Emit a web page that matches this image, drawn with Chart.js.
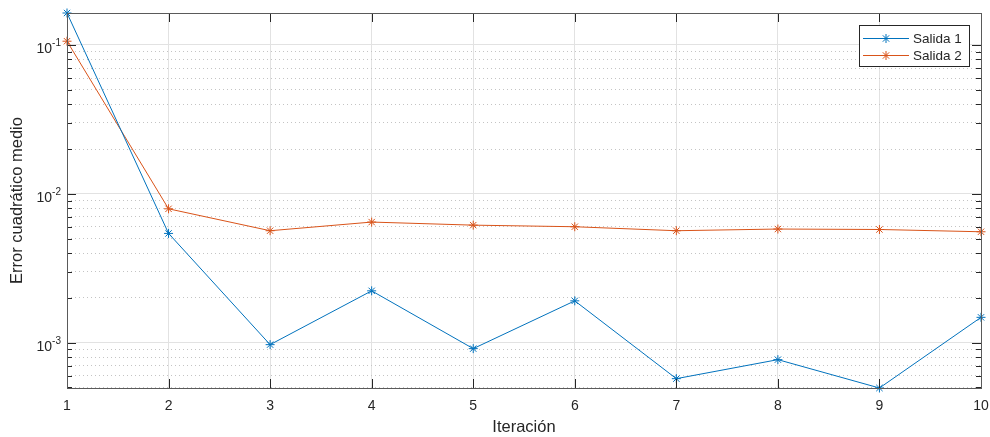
<!DOCTYPE html>
<html>
<head>
<meta charset="utf-8">
<script src="https://cdn.jsdelivr.net/npm/chart.js@4"></script>
<style>
  html, body { margin: 0; padding: 0; background: #fff; }
  #wrap { width: 990px; height: 437px; }
</style>
</head>
<body>
<div id="wrap"><canvas id="chart" width="990" height="437"></canvas></div>
<script>
// data
const iteraciones = ['1', '2', '3', '4', '5', '6', '7', '8', '9', '10'];
const salida1 = [0.164, 0.00542, 0.00097, 0.00223, 0.000912, 0.00191, 0.000573, 0.000769, 0.000496, 0.00148];
const salida2 = [0.106, 0.00793, 0.00565, 0.00646, 0.00616, 0.00601, 0.00565, 0.00580, 0.00576, 0.00556];
const seriesNames = ['Salida 1', 'Salida 2'];
const seriesColors = ['#0072BD', '#D95319'];
const decadeValues = [0.001, 0.01, 0.1];
const decadeExps = ['-3', '-2', '-1'];

const yMin = Math.min(...salida1, ...salida2);
const yMax = Math.max(...salida1, ...salida2);
const FONT = '"Liberation Sans", Arial, sans-serif';
const AXIS = '#262626';

function isDecade(v) {
  const l = Math.log10(v);
  return Math.abs(l - Math.round(l)) < 1e-9;
}

// MATLAB-like box, inward tick marks, y labels with superscripts, legend
const matlabAxes = {
  id: 'matlabAxes',
  afterDraw(chart) {
    const ctx = chart.ctx;
    const a = chart.chartArea;
    const xs = chart.scales.x, ys = chart.scales.y;
    ctx.save();
    ctx.strokeStyle = AXIS;
    ctx.lineWidth = 1;
    ctx.beginPath();
    // inward ticks on left and right
    ys.ticks.forEach(t => {
      const y = Math.round(ys.getPixelForValue(t.value)) + 0.5;
      const len = isDecade(t.value) ? 9 : 5;
      ctx.moveTo(a.left, y); ctx.lineTo(a.left + len, y);
      ctx.moveTo(a.right, y); ctx.lineTo(a.right - len, y);
    });
    // inward ticks on top and bottom
    iteraciones.forEach((c, i) => {
      const x = Math.round(xs.getPixelForValue(i)) + 0.5;
      ctx.moveTo(x, a.bottom); ctx.lineTo(x, a.bottom - 9);
      ctx.moveTo(x, a.top); ctx.lineTo(x, a.top + 9);
    });
    ctx.stroke();
    ctx.strokeStyle = '#5a5a5a';
    ctx.strokeRect(Math.round(a.left) + 0.5, Math.round(a.top) + 0.5,
      Math.round(a.right - a.left), Math.round(a.bottom - a.top));

    // y tick labels as 10^n
    ctx.fillStyle = AXIS;
    ctx.textBaseline = 'alphabetic';
    decadeValues.forEach((v, i) => {
      const y = ys.getPixelForValue(v);
      ctx.font = '10px ' + FONT;
      ctx.textAlign = 'right';
      const ew = ctx.measureText(decadeExps[i]).width;
      ctx.fillText(decadeExps[i], a.left - 6, y + 1);
      ctx.font = '14px ' + FONT;
      ctx.fillText('10', a.left - 6 - ew, y + 8);
    });

    // legend
    const lx = 859, ly = 25, lw = 110, lh = 41;
    ctx.fillStyle = '#fff';
    ctx.fillRect(lx, ly, lw, lh);
    ctx.strokeStyle = AXIS;
    ctx.strokeRect(lx + 0.5, ly + 0.5, lw, lh);
    seriesNames.forEach((name, i) => {
      const y = ly + 13 + i * 17;
      ctx.strokeStyle = seriesColors[i];
      ctx.lineWidth = 1;
      ctx.beginPath();
      ctx.moveTo(lx + 4, y + 0.5); ctx.lineTo(lx + 50, y + 0.5);
      ctx.stroke();
      Chart.helpers.drawPoint(ctx, { pointStyle: 'star', radius: 4.5, borderWidth: 1, rotation: 0 }, lx + 27, y + 0.5);
      ctx.fillStyle = AXIS;
      ctx.font = '13.5px ' + FONT;
      ctx.textAlign = 'left';
      ctx.textBaseline = 'middle';
      ctx.fillText(name, lx + 54, y + 1);
    });
    ctx.restore();
  }
};

const datasets = [salida1, salida2].map((vals, i) => ({
  label: seriesNames[i],
  data: vals,
  borderColor: seriesColors[i],
  backgroundColor: seriesColors[i],
  borderWidth: 1,
  pointStyle: 'star',
  pointRadius: 4.5,
  pointBorderWidth: 1,
  pointBorderColor: seriesColors[i],
  tension: 0,
  clip: false
}));

new Chart(document.getElementById('chart'), {
  type: 'line',
  data: { labels: iteraciones, datasets },
  plugins: [matlabAxes],
  options: {
    responsive: false,
    animation: false,
    devicePixelRatio: 1,
    layout: { padding: { top: 13, right: 9, left: 0, bottom: 0 } },
    plugins: { legend: { display: false }, tooltip: { enabled: false } },
    scales: {
      x: {
        type: 'category',
        offset: false,
        grid: { color: '#e2e2e2', drawTicks: false },
        border: { display: false },
        ticks: { color: AXIS, font: { family: FONT, size: 14 }, padding: 10, maxRotation: 0, autoSkip: false },
        title: { display: true, text: 'Iteración', color: AXIS, font: { family: FONT, size: 16.5 }, padding: { top: 1, bottom: 0 } },
        afterFit(scale) {
          scale.height = 49;
          scale.paddingLeft = 0;
          scale.paddingRight = 0;
        }
      },
      y: {
        type: 'logarithmic',
        min: yMin,
        max: yMax,
        bounds: 'data',
        afterBuildTicks(scale) {
          const ticks = [];
          for (let e = -5; e <= 0; e++) {
            for (let s = 1; s <= 9; s++) {
              const v = s * Math.pow(10, e);
              if (v >= yMin * 0.999 && v <= yMax * 1.001) ticks.push({ value: v, major: s === 1 });
            }
          }
          scale.ticks = ticks;
        },
        grid: {
          drawTicks: false,
          color: ctx => (ctx.tick && isDecade(ctx.tick.value)) ? '#e2e2e2' : '#c4c4c4'
        },
        border: {
          display: false,
          dash: ctx => (ctx.tick && !isDecade(ctx.tick.value)) ? [1, 3] : []
        },
        ticks: { display: false },
        title: { display: true, text: 'Error cuadrático medio', color: AXIS, font: { family: FONT, size: 16.5 }, padding: { top: 8, bottom: 0 } },
        afterFit(scale) {
          scale.width = 67;
          scale.paddingTop = 0;
          scale.paddingBottom = 0;
        }
      }
    }
  }
});
</script>
</body>
</html>
